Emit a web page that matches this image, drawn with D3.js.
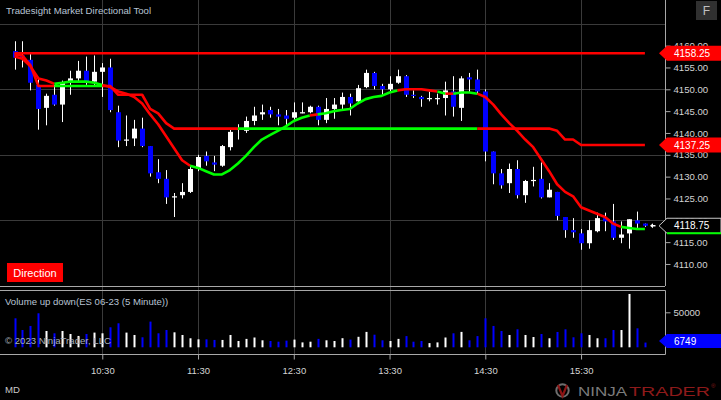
<!DOCTYPE html>
<html><head><meta charset="utf-8">
<script src="https://cdn.jsdelivr.net/npm/d3@7"></script>
<style>body{margin:0;background:#000;} svg{display:block;font-family:"Liberation Sans",Arial,sans-serif;}</style>
</head><body><svg id="c" width="721" height="400"></svg>
<script>
const times = ["09:35","09:40","09:45","09:50","09:55","10:00","10:05","10:10","10:15","10:20","10:25","10:30",
"10:35","10:40","10:45","10:50","10:55","11:00","11:05","11:10","11:15","11:20","11:25","11:30",
"11:35","11:40","11:45","11:50","11:55","12:00","12:05","12:10","12:15","12:20","12:25","12:30",
"12:35","12:40","12:45","12:50","12:55","13:00","13:05","13:10","13:15","13:20","13:25","13:30",
"13:35","13:40","13:45","13:50","13:55","14:00","14:05","14:10","14:15","14:20","14:25","14:30",
"14:35","14:40","14:45","14:50","14:55","15:00","15:05","15:10","15:15","15:20","15:25","15:30",
"15:35","15:40","15:45","15:50","15:55","16:00","16:05","16:10"];
const open = [4158.75,4157.75,4156.75,4151.0,4145.75,4148.75,4146.5,4151.75,4152.5,4154.25,
4151.75,4154.0,4155.0,4144.75,4138.25,4138.75,4141.0,4137.0,4131.0,4129.5,
4125.25,4125.75,4126.5,4131.75,4134.75,4133.25,4132.5,4136.75,4140.75,4140.5,
4142.75,4144.25,4145.25,4144.25,4144.0,4143.5,4144.75,4144.75,4146.0,4143.0,
4145.5,4146.5,4148.25,4147.25,4150.5,4153.75,4150.75,4150.0,4151.5,4153.0,
4148.75,4148.25,4148.0,4148.0,4148.0,4149.5,4145.75,4152.75,4152.25,4149.5,
4135.75,4130.75,4128.5,4131.75,4125.75,4129.0,4129.5,4125.25,4126.5,4120.75,
4117.75,4117.0,4114.75,4117.5,4120.5,4119.75,4116.0,4117.0,4120.0,4119.25];
const high = [4161,4161,4158.25,4152.5,4149,4151,4152,4154.25,4156.5,4157.5,
4157.75,4156,4157,4146.25,4144,4143,4143.5,4137,4134,4131.5,
4126.25,4128.5,4132.5,4135,4135.75,4134.75,4137.25,4140.75,4142,4143.75,
4146,4146.5,4146,4145.5,4145.25,4147,4147,4146.25,4146.25,4148,
4148,4149.25,4149,4151,4154.5,4154,4151.25,4153,4154.5,4153.25,
4149.75,4148.5,4149.5,4149,4151.75,4153,4153,4153.75,4154.5,4150,
4135.75,4131.75,4133,4133.75,4129.25,4132.25,4133.25,4128.5,4126.5,4120.75,
4120.5,4118,4120,4121.75,4121.75,4123.75,4119.75,4120.25,4122,4119.25];
const low = [4154.5,4155,4149.75,4140.75,4141.75,4146.25,4142.5,4148.75,4151.75,4151,
4151,4148.25,4144.75,4136.75,4137,4137,4136.75,4130,4128.5,4123.75,
4120.75,4125,4126.25,4131.25,4132.5,4131.25,4132.25,4136,4138.5,4140,
4141.75,4143,4143.5,4141.75,4141.75,4143,4144.5,4144.5,4141.75,4142.25,
4143.25,4145.25,4144,4147,4150.25,4150,4148.5,4149.5,4151.25,4148.25,
4148,4146,4147.25,4146.5,4144,4143.75,4142.75,4149.25,4149,4133.5,
4128.25,4127.25,4126.25,4125,4124,4127.75,4125,4125.25,4120,4116,
4116,4113.25,4113.5,4117.25,4117.5,4115.5,4114.75,4113.5,4118.25,4118.5];
const close = [4157.25,4157.25,4151.5,4145.5,4148.5,4146.5,4151.5,4152.5,4154.25,4151.75,
4154.0,4155.0,4145.25,4138.25,4138.5,4141.0,4137.0,4130.75,4129.5,4125.25,
4125.5,4126.5,4131.75,4134.5,4133.5,4132.75,4137.0,4140.25,4141.0,4142.75,
4144.0,4144.75,4144.25,4143.75,4143.25,4144.75,4144.75,4146.0,4143.0,4145.5,
4146.5,4148.25,4146.75,4150.25,4153.75,4150.75,4150.0,4151.25,4153.0,4148.75,
4148.5,4147.75,4148.0,4148.0,4149.75,4146.0,4152.5,4152.25,4149.5,4135.75,
4130.75,4128.0,4131.75,4125.75,4129.0,4129.25,4125.25,4127.0,4121.0,4117.75,
4117.25,4114.75,4117.75,4120.5,4119.75,4116.0,4116.75,4120.25,4119.25,4118.75];
const volume = [41400,24700,30500,48600,23300,20000,23300,19000,16200,19000,
21000,20000,28600,34300,21000,17600,14300,36700,20000,24700,
21400,17600,12900,11400,11400,10500,10500,17600,9000,12000,
14000,10000,9000,8000,9500,11000,7000,8000,12000,10000,
9000,13000,11000,15000,22000,18000,10000,9000,12000,16000,
8000,9000,6000,7000,14000,20000,22000,10000,16000,41400,
30500,23300,17600,25700,17600,14700,19000,12900,21900,25700,
14300,20000,17600,12900,12900,24700,24700,76200,27100,6749];
const fastLine = [4157.5,4157.0,4155.25,4152.5,4152.0,4151.25,4151.5,4151.75,4151.75,4151.75,
4151.5,4151.0,4150.5,4149.5,4149.0,4148.25,4146.75,4144.25,4142.0,4139.25,
4136.5,4133.75,4132.5,4132.0,4131.25,4130.5,4130.5,4131.5,4133.0,4134.75,
4136.75,4138.5,4139.5,4140.5,4141.5,4142.75,4143.5,4144.0,4144.25,4144.5,
4145.0,4145.25,4145.5,4146.75,4147.75,4148.25,4148.5,4149.25,4149.75,4150.0,
4150.0,4150.0,4149.75,4149.5,4149.0,4149.0,4149.25,4149.25,4149.0,4148.25,
4146.5,4144.25,4142.25,4140.5,4138.5,4136.75,4134.0,4131.25,4128.25,4126.5,
4125.5,4123.0,4122.25,4121.5,4120.75,4119.25,4118.5,4118.25,4118.0,4118.0];
const fastUp = [0,0,0,0,0,1,1,1,1,1,
1,0,0,0,0,0,0,0,0,0,
0,0,1,1,1,1,1,1,1,1,
1,1,1,1,1,1,1,0,1,1,
1,1,1,1,1,1,1,1,0,0,
0,0,0,1,0,1,1,1,0,0,
0,0,0,0,0,0,0,0,0,0,
0,0,0,0,0,0,1,1,1,1];
const stepLine = [4158.0,4157.75,4155.5,4150.75,4150.75,4150.75,4150.75,4150.75,4150.75,4150.75,
4150.75,4150.75,4150.75,4148.75,4148.75,4148.75,4148.75,4145.5,4144.5,4142.25,
4141,4141,4141,4141,4141,4141,4141,4141,4141,4141,
4141,4141,4141,4141,4141,4141,4141,4141,4141,4141,
4141,4141,4141,4141,4141,4141,4141,4141,4141,4141,
4141,4141,4141,4141,4141,4141,4141,4141,4141,4141,
4141,4141,4141,4141,4141,4141,4141,4141,4140.5,4138.5,
4138.5,4137.25,4137.25,4137.25,4137.25,4137.25,4137.25,4137.25,4137.25,4137.25];
const stepUp = [0,0,0,0,0,1,1,1,1,1,
1,0,0,0,0,0,0,0,0,0,
0,0,0,0,0,0,0,0,1,1,
1,1,1,1,1,1,1,1,1,1,
1,1,1,1,1,1,1,1,1,1,
1,1,1,1,1,1,1,1,0,0,
0,0,0,0,0,0,0,0,0,0,
0,0,0,0,0,0,0,0,0,0];
const refLevel = 4158.25;
const priceTicks = [4110,4115,4120,4125,4130,4135,4140,4145,4150,4155,4160];
const priceGrid = [4165,4150,4135,4120];
const timeTicks = ["10:30","11:30","12:30","13:30","14:30","15:30"];
const volTicks = [50000];

const svg = d3.select("#c");
const W = 721, H = 400, axisX = 665;
const BLUE = "#0000ff", RED = "#ff0000", GREEN = "#00ff00", GRID = "#3a3a3a", BORDER = "#a8a8a8";
svg.append("rect").attr("width", W).attr("height", H).attr("fill", "#000");

const x = d3.scalePoint().domain(times).range([14.5, 644.9]);
const y = d3.scaleLinear().domain([4105, 4170.45]).range([285.8, 0]);
const yv = d3.scaleLinear().domain([0, 50000]).range([347.3, 312.3]);

// grid
svg.append("g").selectAll("line").data(priceGrid).join("line")
  .attr("x1", 0).attr("x2", axisX).attr("y1", d => Math.round(y(d)) + 0.5).attr("y2", d => Math.round(y(d)) + 0.5)
  .attr("stroke", GRID);
svg.append("g").selectAll("line").data(timeTicks).join("line")
  .attr("x1", d => Math.round(x(d)) + 0.5).attr("x2", d => Math.round(x(d)) + 0.5)
  .attr("y1", 0).attr("y2", 354).attr("stroke", GRID);

// panel borders
svg.append("line").attr("x1", 0).attr("x2", axisX).attr("y1", 286.5).attr("y2", 286.5).attr("stroke", BORDER);
svg.append("path").attr("d", `M0,290.5H${axisX + 0.5}V354.5H0`).attr("fill", "none").attr("stroke", BORDER);
svg.append("line").attr("x1", axisX + 0.5).attr("x2", axisX + 0.5).attr("y1", 0).attr("y2", 286).attr("stroke", BORDER);

// candles
const idx = d3.range(times.length);
const cg = svg.append("g");
cg.selectAll("line").data(idx).join("line")
  .attr("x1", i => Math.round(x(times[i])) + 0.5).attr("x2", i => Math.round(x(times[i])) + 0.5)
  .attr("y1", i => y(high[i])).attr("y2", i => y(low[i])).attr("stroke", "#fff").attr("stroke-width", 1);
cg.selectAll("rect").data(idx).join("rect")
  .attr("x", i => Math.round(x(times[i])) - 2).attr("width", 5)
  .attr("y", i => y(Math.max(open[i], close[i])))
  .attr("height", i => Math.max(1.2, Math.abs(y(open[i]) - y(close[i]))))
  .attr("fill", i => close[i] < open[i] ? BLUE : "#fff");

// reference horizontal line
svg.append("line").attr("x1", x(times[0])).attr("x2", x(times[times.length - 1]))
  .attr("y1", y(refLevel)).attr("y2", y(refLevel)).attr("stroke", RED).attr("stroke-width", 2.6);

// colored indicator lines
function drawColored(vals, trend, width) {
  const g = svg.append("g");
  const line = d3.line().x(i => x(times[i])).y(i => y(vals[i]));
  let start = 0;
  for (let i = 1; i <= vals.length - 1; i++) {
    if (i === vals.length - 1 || trend[i] !== trend[start]) {
      const seg = d3.range(start, i + 1);
      g.append("path").attr("d", line(seg)).attr("fill", "none")
        .attr("stroke", trend[start] ? GREEN : RED).attr("stroke-width", width)
        .attr("stroke-linejoin", "round").attr("stroke-linecap", "butt");
      start = i;
    }
  }
}
drawColored(stepLine, stepUp, 2.6);
drawColored(fastLine, fastUp, 2.6);

// volume bars
svg.append("g").selectAll("rect").data(idx).join("rect")
  .attr("x", i => Math.round(x(times[i])) - 0.5).attr("width", 2)
  .attr("y", i => yv(volume[i])).attr("height", i => yv(0) - yv(volume[i]))
  .attr("fill", i => close[i] < open[i] ? BLUE : "#fff");

// axes
const TXT = "#d4d4d4";
const pa = svg.append("g").attr("transform", `translate(${axisX + 0.5},0)`)
  .call(d3.axisRight(y).tickValues(priceTicks).tickFormat(d3.format(".2f")).tickSize(5).tickPadding(3));
pa.select(".domain").remove();
pa.selectAll("line").attr("stroke", BORDER);
pa.selectAll("text").attr("fill", TXT).attr("font-size", "9.6px").attr("font-family", "Liberation Sans, Arial, sans-serif");

const va = svg.append("g").attr("transform", `translate(${axisX + 0.5},0)`)
  .call(d3.axisRight(yv).tickValues(volTicks).tickFormat(d3.format("d")).tickSize(5).tickPadding(3));
va.select(".domain").remove();
va.selectAll("line").attr("stroke", BORDER);
va.selectAll("text").attr("fill", TXT).attr("font-size", "9.6px").attr("font-family", "Liberation Sans, Arial, sans-serif");

const ta = svg.append("g").attr("transform", "translate(0,354.5)")
  .call(d3.axisBottom(x).tickValues(timeTicks).tickSize(5).tickPadding(8));
ta.select(".domain").remove();
ta.selectAll("line").attr("stroke", BORDER);
ta.selectAll("text").attr("fill", TXT).attr("font-size", "9.5px").attr("font-family", "Liberation Sans, Arial, sans-serif");

// price markers
function marker(yc, fill, stroke, label, extra) {
  const g = svg.append("g");
  g.append("path").attr("d", `M659,${yc} L667,${yc - 7.5} L721,${yc - 7.5} L721,${yc + 7.5} L667,${yc + 7.5} Z`)
    .attr("fill", fill).attr("stroke", stroke || "none");
  if (extra) extra(g);
  g.append("text").attr("x", 674).attr("y", yc + 3.6).attr("fill", "#fff").attr("font-size", "10px").text(label);
}
marker(y(refLevel), RED, null, d3.format(".2f")(refLevel));
marker(y(stepLine[stepLine.length - 1]), RED, null, d3.format(".2f")(stepLine[stepLine.length - 1]));
const lastC = close[close.length - 1];
marker(y(lastC), "#000", "#c8c8c8", d3.format(".2f")(lastC), g => {
  g.append("line").attr("x1", 667).attr("x2", 721).attr("y1", y(lastC) + 7.5).attr("y2", y(lastC) + 7.5)
    .attr("stroke", GREEN).attr("stroke-width", 2);
});
// small arrow at last price
svg.append("path").attr("d", `M650,${y(lastC)} l3,-2.5 v1.8 h2.5 v1.4 h-2.5 v1.8 Z`).attr("fill", "#fff");
const lastV = volume[volume.length - 1];
{
  const yc = 341;
  svg.append("path").attr("d", `M659,${yc} L667,${yc - 7} L721,${yc - 7} L721,${yc + 7} L667,${yc + 7} Z`).attr("fill", BLUE);
  svg.append("text").attr("x", 674).attr("y", yc + 3.6).attr("fill", "#fff").attr("font-size", "10px").text(lastV);
}

// texts
svg.append("text").attr("x", 6).attr("y", 14).attr("fill", "#b8c4d4").attr("font-size", "9.6px").text("Tradesight Market Directional Tool");
svg.append("rect").attr("x", 696).attr("y", 1).attr("width", 21).attr("height", 19).attr("fill", "#303030");
svg.append("text").attr("x", 706.5).attr("y", 15).attr("text-anchor", "middle").attr("fill", "#c0c0c0").attr("font-size", "12px").text("F");

svg.append("rect").attr("x", 7).attr("y", 263).attr("width", 56).attr("height", 19).attr("fill", RED);
svg.append("text").attr("x", 35).attr("y", 277).attr("text-anchor", "middle").attr("fill", "#fff").attr("font-size", "11px").text("Direction");

svg.append("text").attr("x", 5).attr("y", 305).attr("fill", "#b8c4d4").attr("font-size", "9.6px").text("Volume up down(ES 06-23 (5 Minute))");
svg.append("text").attr("x", 5).attr("y", 344).attr("fill", "#a8b0bc").attr("font-size", "9.6px").text("© 2023 NinjaTrader, LLC");
svg.append("text").attr("x", 5).attr("y", 393).attr("fill", "#c8c8c8").attr("font-size", "9.6px").text("MD");

// logo
svg.append("circle").attr("cx", 562.5).attr("cy", 390.5).attr("r", 6.2).attr("fill", "none").attr("stroke", "#6e6e6e").attr("stroke-width", 2);
svg.append("path").attr("d", "M558,385 L562.5,396 L567,385").attr("fill", "none").attr("stroke", "#8b1414").attr("stroke-width", 2.2);
svg.append("text").attr("x", 578).attr("y", 395.5).attr("fill", "#7c7c7c").attr("font-size", "12.5px")
  .attr("textLength", 49).attr("lengthAdjust", "spacingAndGlyphs").text("NINJA");
svg.append("text").attr("x", 629).attr("y", 395.5).attr("fill", "#8e1a1a").attr("font-size", "12.5px")
  .attr("textLength", 81).attr("lengthAdjust", "spacingAndGlyphs").text("TRADER");
svg.append("text").attr("x", 711).attr("y", 388).attr("fill", "#8e1a1a").attr("font-size", "6px").text("®");
</script></body></html>
